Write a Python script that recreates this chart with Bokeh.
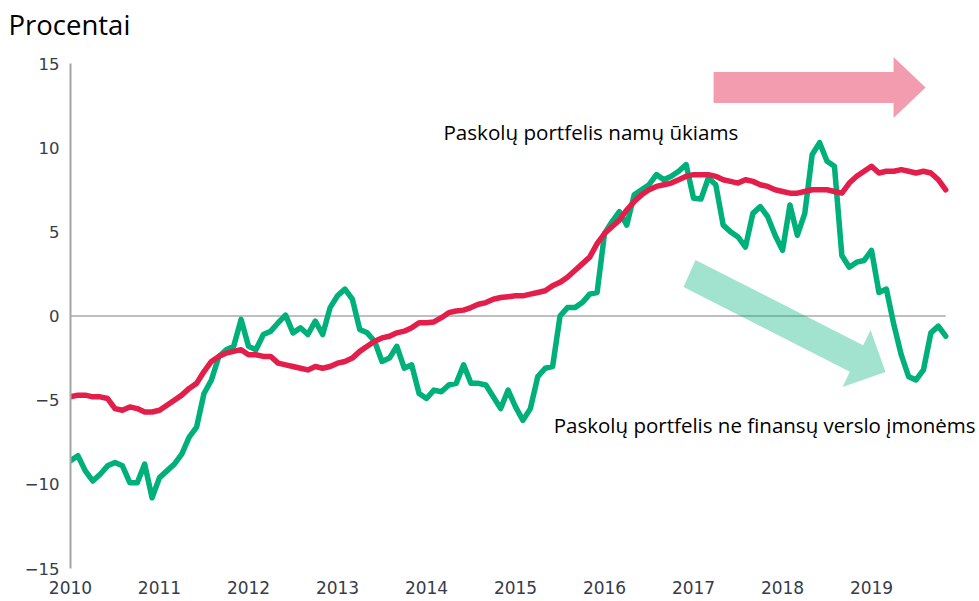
from bokeh.plotting import figure
from bokeh.models import Range1d, FixedTicker, Label, Title
from bokeh.embed import file_html
from bokeh.resources import INLINE
import pandas as pd

# ---- data -------------------------------------------------------------
months = pd.date_range("2010-01-01", "2019-11-01", freq="MS")

households = [
    -4.8, -4.7, -4.7, -4.8, -4.8, -4.9, -5.5, -5.6, -5.4, -5.5, -5.7, -5.7,
    -5.6, -5.3, -5.0, -4.7, -4.3, -4.0, -3.3, -2.7, -2.4, -2.2, -2.1, -2.0,
    -2.3, -2.3, -2.4, -2.4, -2.8, -2.9, -3.0, -3.1, -3.2, -3.0, -3.1, -3.0,
    -2.8, -2.7, -2.5, -2.1, -1.8, -1.5, -1.3, -1.2, -1.0, -0.9, -0.7, -0.4,
    -0.4, -0.35, -0.1, 0.2, 0.3, 0.35, 0.5, 0.7, 0.8, 1.0, 1.1, 1.15,
    1.2, 1.2, 1.3, 1.4, 1.5, 1.8, 2.0, 2.3, 2.7, 3.1, 3.5, 4.3,
    4.9, 5.3, 5.7, 6.3, 6.8, 7.2, 7.5, 7.7, 7.8, 7.9, 8.1, 8.3,
    8.4, 8.4, 8.4, 8.3, 8.1, 8.0, 7.9, 8.1, 8.0, 7.8, 7.7, 7.5,
    7.4, 7.3, 7.3, 7.4, 7.5, 7.5, 7.5, 7.4, 7.3, 7.9, 8.3, 8.6,
    8.9, 8.5, 8.6, 8.6, 8.7, 8.6, 8.5, 8.6, 8.5, 8.1, 7.5,
]

nonfinancial = [
    -8.6, -8.3, -9.2, -9.8, -9.4, -8.9, -8.7, -8.9, -9.9, -9.9, -8.8, -10.8,
    -9.6, -9.2, -8.8, -8.2, -7.2, -6.6, -4.6, -3.8, -2.4, -2.0, -1.8, -0.2,
    -1.8, -2.0, -1.1, -0.9, -0.4, 0.05, -1.0, -0.7, -1.1, -0.3, -1.1, 0.5,
    1.2, 1.6, 1.0, -0.8, -1.0, -1.5, -2.7, -2.5, -1.8, -3.1, -2.9, -4.6,
    -4.9, -4.4, -4.5, -4.1, -4.0, -2.9, -4.0, -4.0, -4.1, -4.8, -5.5, -4.4,
    -5.4, -6.2, -5.5, -3.6, -3.1, -3.0, 0.0, 0.5, 0.5, 0.8, 1.3, 1.4,
    4.9, 5.6, 6.2, 5.4, 7.2, 7.5, 7.8, 8.4, 8.1, 8.3, 8.6, 9.0,
    7.0, 6.95, 8.2, 7.8, 5.4, 5.0, 4.7, 4.1, 6.1, 6.5, 5.9, 4.8,
    3.9, 6.6, 4.8, 6.1, 9.6, 10.3, 9.2, 8.9, 3.6, 2.9, 3.2, 3.3,
    3.9, 1.4, 1.6, -0.5, -2.3, -3.6, -3.8, -3.2, -1.0, -0.6, -1.2,
]

year_ticks = list(range(2010, 2020))
y_ticks = [-15, -10, -5, 0, 5, 10, 15]
y_tick_labels = ["\u221215", "\u221210", "\u22125", "0", "5", "10", "15"]

title_text = "Procentai"
label_households = "Paskolų portfelis namų ūkiams"
label_nonfinancial = "Paskolų portfelis ne finansų verslo įmonėms"

# annotation arrow outlines (x in years, y in percent)
pink_arrow_x = [2017.225, 2019.247, 2019.247, 2019.607, 2019.247, 2019.247, 2017.225]
pink_arrow_y = [14.50, 14.50, 15.39, 13.58, 11.76, 12.66, 12.66]
teal_arrow_x = [2017.022, 2018.906, 2018.989, 2019.157, 2018.674, 2018.757, 2016.888]
teal_arrow_y = [3.33, -1.74, -0.83, -3.33, -4.22, -3.31, 1.72]

# ---- figure -----------------------------------------------------------
x = [d.year + (d.month - 1) / 12 for d in months]

p = figure(width=979, height=601, output_backend="svg", toolbar_location=None,
           x_range=Range1d(2010, 2020.213), y_range=Range1d(-15, 16.37),
           min_border_left=70, min_border_right=0, min_border_top=40,
           min_border_bottom=33)
p.outline_line_color = None
p.xgrid.visible = False
p.ygrid.visible = False

txt_font = "Open Sans"
p.title = Title(text=title_text, align="left", offset=-62, standoff=-4,
                text_font=txt_font, text_font_size="27.5px",
                text_font_style="normal", text_color="#000000")

tick_font = "DejaVu Sans"
tick_color = "#363c4a"

p.yaxis.ticker = FixedTicker(ticks=y_ticks)
p.yaxis.major_label_overrides = {t: s for t, s in zip(y_ticks, y_tick_labels)}
p.yaxis.bounds = (-15, 15)
p.yaxis.axis_line_color = "#a6a6a6"
p.yaxis.axis_line_width = 2
p.yaxis.major_tick_line_color = None
p.yaxis.minor_tick_line_color = None
p.yaxis.major_tick_out = 0
p.yaxis.major_tick_in = 0
p.yaxis.major_label_standoff = 11
p.yaxis.major_label_text_font = tick_font
p.yaxis.major_label_text_font_size = "16.5px"
p.yaxis.major_label_text_color = tick_color

p.xaxis.ticker = FixedTicker(ticks=year_ticks)
p.xaxis.axis_line_color = None
p.xaxis.major_tick_line_color = None
p.xaxis.minor_tick_line_color = None
p.xaxis.major_tick_out = 0
p.xaxis.major_tick_in = 0
p.xaxis.major_label_standoff = 12
p.xaxis.major_label_text_font = tick_font
p.xaxis.major_label_text_font_size = "17px"
p.xaxis.major_label_text_color = tick_color

# zero line
p.line([x[0], x[-1]], [0, 0], line_color="#bfbfbf", line_width=2)

# arrows
p.patch(pink_arrow_x, pink_arrow_y, fill_color="#f39cb0", line_color=None)
p.patch(teal_arrow_x, teal_arrow_y, fill_color="#00b27a", fill_alpha=0.37,
        line_color=None)

# series
p.line(x, nonfinancial, line_color="#00b07a", line_width=5.5,
       line_join="round", line_cap="round")
p.line(x, households, line_color="#e31e4b", line_width=5.5,
       line_join="round", line_cap="round")

p.add_layout(Label(x=2014.19, y=10.93, text=label_households, text_font=txt_font,
                   text_font_size="20.6px", text_baseline="middle",
                   text_color="#000000"))
p.add_layout(Label(x=2020.169, y=-6.48, text=label_nonfinancial, text_font=txt_font,
                   text_font_size="20.5px", text_baseline="middle",
                   text_align="right", text_color="#000000"))

open("out.html", "w").write(file_html(p, INLINE))
